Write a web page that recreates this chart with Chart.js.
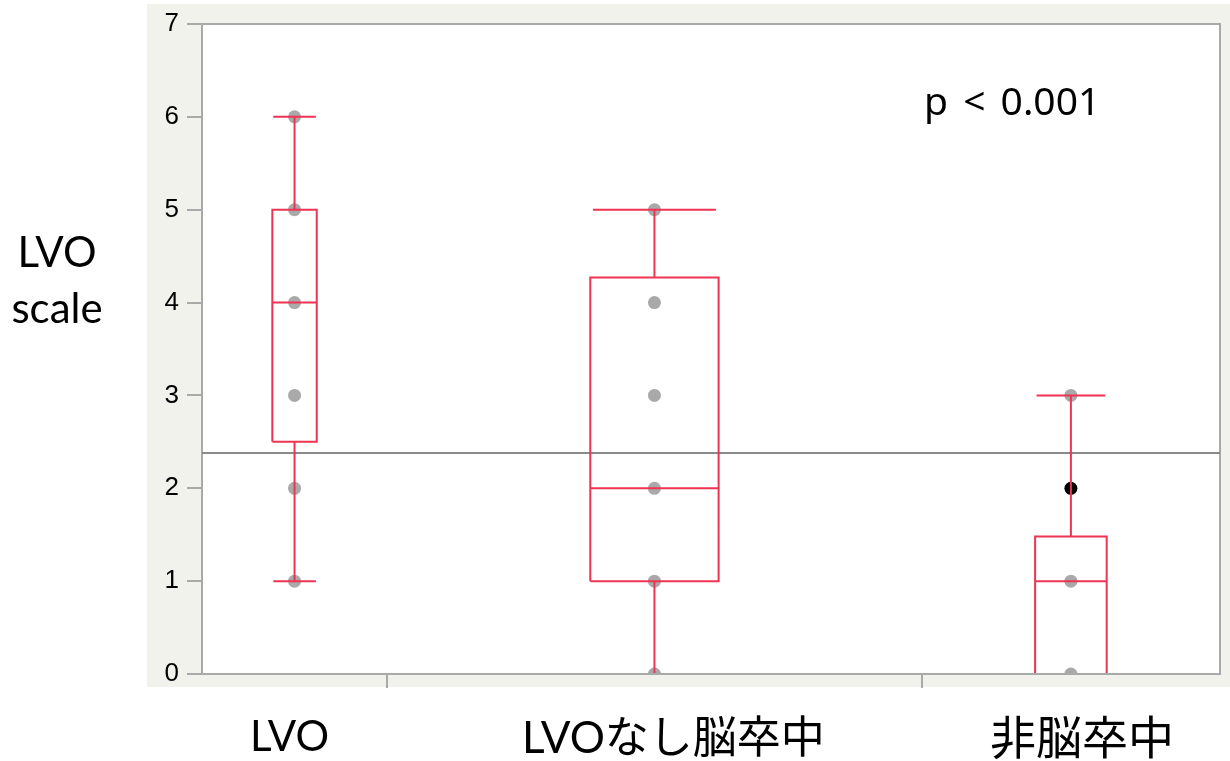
<!DOCTYPE html>
<html>
<head>
<meta charset="utf-8">
<script src="https://cdn.jsdelivr.net/npm/chart.js@4"></script>
<style>
  html, body { margin: 0; padding: 0; background: #fff; }
  #wrap { width: 1230px; height: 761px; }
</style>
</head>
<body>
<div id="wrap"><canvas id="chart" width="1230" height="761"></canvas></div>
<script>
// groups (x widths follow group size, as in the JMP plot)
const categories = ['LVO', 'LVOなし脳卒中', '非脳卒中'];
const groupSizes = [18, 52, 29];

// box plot stats
const q1 = [2.5, 1, 0];
const median = [4, 2, 1];
const q3 = [5, 4.27, 1.48];
const whiskerLow = [1, 0, 0];
const whiskerHigh = [6, 5, 3];
const grandMean = 2.38;

// points shown per group
const pointValues = [[1, 2, 3, 4, 5, 6], [0, 1, 2, 3, 4, 5], [0, 1, 3]];
const highlightedValues = [[], [], [2]];

const yTicks = [0, 1, 2, 3, 4, 5, 6, 7];
const yTitle = ['LVO', 'scale'];
const pValueText = 'p < 0.001';

// styles
const RED = '#ef3352';
const GRAY_AXIS = '#a9a9a9';
const BOX_FRAC = 0.24;
const CAP_FRAC = 0.23;
const TEXT_FONT = 'Lato, "Noto Sans CJK JP", sans-serif';
const labelSizes = [42, 44, 46];
const labelNudgePx = [-5, 19, 11]; // category labels sit a bit off the group centres

// group layout on the x scale
const xMax = groupSizes.reduce((a, b) => a + b, 0);
const bounds = [];
const centers = [];
let acc = 0;
groupSizes.forEach((n, i) => {
  centers.push(acc + n / 2);
  acc += n;
  if (i < groupSizes.length - 1) bounds.push(acc);
});

// box outlines built from stats
const boxLines = [];
const gap = (x) => boxLines.push({ x: x, y: null });
categories.forEach((c, i) => {
  const cx = centers[i];
  const hw = groupSizes[i] * BOX_FRAC / 2;
  const cw = groupSizes[i] * CAP_FRAC / 2;
  const l = cx - hw, r = cx + hw;
  boxLines.push({ x: l, y: q1[i] }, { x: r, y: q1[i] }, { x: r, y: q3[i] }, { x: l, y: q3[i] }, { x: l, y: q1[i] });
  gap(l);
  boxLines.push({ x: l, y: median[i] }, { x: r, y: median[i] });
  gap(r);
  boxLines.push({ x: cx, y: q3[i] }, { x: cx, y: whiskerHigh[i] });
  gap(cx);
  boxLines.push({ x: cx - cw, y: whiskerHigh[i] }, { x: cx + cw, y: whiskerHigh[i] });
  gap(cx);
  boxLines.push({ x: cx, y: q1[i] }, { x: cx, y: whiskerLow[i] });
  gap(cx);
  boxLines.push({ x: cx - cw, y: whiskerLow[i] }, { x: cx + cw, y: whiskerLow[i] });
  gap(cx);
});

const grayPoints = [];
const blackPoints = [];
pointValues.forEach((vals, i) => vals.forEach(v => grayPoints.push({ x: centers[i], y: v })));
highlightedValues.forEach((vals, i) => vals.forEach(v => blackPoints.push({ x: centers[i], y: v })));

const isBound = (v) => bounds.some(b => Math.abs(b - v) < 1e-6);
let labelTicks = [];
const catIndex = (v) => labelTicks.findIndex(t => Math.abs(t - v) < 1e-6);

// panel background, frame and free texts
const decor = {
  id: 'decor',
  beforeDraw(chart) {
    const { ctx, chartArea: a, width } = chart;
    ctx.save();
    ctx.fillStyle = '#f2f2ed';
    ctx.fillRect(a.left - 55, a.top - 20, width - (a.left - 55), a.bottom - a.top + 33);
    ctx.fillStyle = '#ffffff';
    ctx.fillRect(a.left, a.top, a.right - a.left, a.bottom - a.top);
    ctx.restore();
  },
  beforeDatasetsDraw(chart) {
    const { ctx, chartArea: a } = chart;
    ctx.save();
    ctx.strokeStyle = GRAY_AXIS;
    ctx.lineWidth = 2;
    ctx.beginPath();
    ctx.moveTo(a.left, a.top);
    ctx.lineTo(a.right, a.top);
    ctx.lineTo(a.right, a.bottom);
    ctx.stroke();
    ctx.restore();
  },
  afterDraw(chart) {
    const { ctx, chartArea: a } = chart;
    ctx.save();
    ctx.fillStyle = '#000';
    ctx.font = '42px ' + TEXT_FONT;
    ctx.textAlign = 'center';
    ctx.textBaseline = 'middle';
    ctx.fillText(yTitle[0], 57, 253);
    ctx.fillText(yTitle[1], 57, 309);
    ctx.font = '39px "Noto Sans", sans-serif';
    ctx.textAlign = 'left';
    ctx.wordSpacing = '5px';
    ctx.fillText(pValueText, a.left + 722, 104);
    ctx.restore();
  }
};

new Chart(document.getElementById('chart'), {
  type: 'scatter',
  data: {
    datasets: [
      {
        data: boxLines,
        showLine: true,
        spanGaps: false,
        borderColor: RED,
        borderWidth: 2,
        pointRadius: 0,
        borderJoinStyle: 'miter',
        clip: { left: 0, top: 0, right: 0, bottom: -1 },
        order: 1
      },
      {
        data: [{ x: 0, y: grandMean }, { x: xMax, y: grandMean }],
        showLine: true,
        borderColor: '#8a8a8a',
        borderWidth: 2,
        pointRadius: 0,
        order: 2
      },
      {
        data: blackPoints,
        pointRadius: 6.5,
        pointBackgroundColor: '#000',
        pointBorderWidth: 0,
        clip: 0,
        order: 3
      },
      {
        data: grayPoints,
        pointRadius: 6.5,
        pointBackgroundColor: '#a9a9a9',
        pointBorderWidth: 0,
        clip: 0,
        order: 4
      }
    ]
  },
  options: {
    responsive: false,
    animation: false,
    layout: { padding: { top: 24, right: 10, left: 0, bottom: 0 } },
    plugins: { legend: { display: false }, tooltip: { enabled: false } },
    scales: {
      x: {
        type: 'linear',
        min: 0,
        max: xMax,
        afterBuildTicks: (s) => {
          const perPx = xMax / 1018;
          labelTicks = centers.map((c, i) => c + labelNudgePx[i] * perPx);
          const vals = labelTicks.concat(bounds).sort((a, b) => a - b);
          s.ticks = vals.map(v => ({ value: v }));
        },
        afterFit: (s) => { s.height = 87; },
        border: { color: GRAY_AXIS, width: 2 },
        grid: {
          drawOnChartArea: false,
          tickLength: 14,
          lineWidth: 2,
          color: (c) => (c.tick && isBound(c.tick.value)) ? GRAY_AXIS : 'rgba(0,0,0,0)'
        },
        ticks: {
          autoSkip: false,
          maxRotation: 0,
          padding: 24,
          color: '#000',
          font: (c) => {
            const i = c.tick ? catIndex(c.tick.value) : -1;
            return { family: TEXT_FONT, size: i >= 0 ? labelSizes[i] : 40 };
          },
          callback: (v) => { const i = catIndex(v); return i >= 0 ? categories[i] : ''; }
        }
      },
      y: {
        min: 0,
        max: 7,
        afterBuildTicks: (s) => { s.ticks = yTicks.map(v => ({ value: v })); },
        afterFit: (s) => { s.width = 202; },
        border: { color: GRAY_AXIS, width: 2 },
        grid: { drawOnChartArea: false, tickLength: 15, lineWidth: 2, color: GRAY_AXIS },
        ticks: {
          padding: 8,
          color: '#000',
          font: { family: '"Liberation Sans", Arial, sans-serif', size: 26 }
        }
      }
    }
  },
  plugins: [decor]
});
</script>
</body>
</html>
